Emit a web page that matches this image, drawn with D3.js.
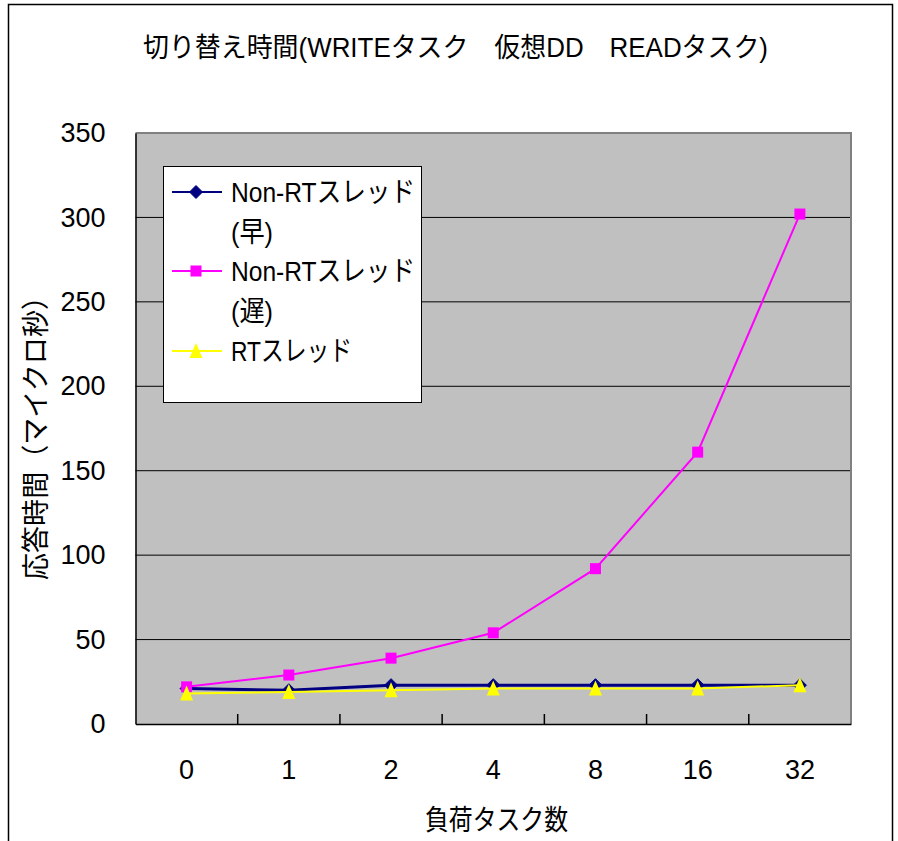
<!DOCTYPE html>
<html>
<head>
<meta charset="utf-8">
<script src="https://cdn.jsdelivr.net/npm/d3@7"></script>
<style>
  html, body { margin: 0; padding: 0; background: #fff; }
  svg { display: block; }
  text { fill: #000; }
</style>
</head>
<body>
<svg id="chart" width="898" height="841"></svg>
<script>
// Data: switch time (µs) vs number of load tasks
const loadTasks = ["0", "1", "2", "4", "8", "16", "32"];
const nonRtFast = [21, 20, 23, 23, 23, 23, 23];
const nonRtSlow = [22, 29, 39, 54, 92, 161, 302];
const rtThread  = [18, 19, 20, 21, 21, 21, 23];
const yTicks = [0, 50, 100, 150, 200, 250, 300, 350];

const titleText  = "切り替え時間(WRITEタスク　仮想DD　READタスク)";
const xTitleText = "負荷タスク数";
const yTitleText = "応答時間（マイクロ秒）";

const seriesList = [
  { name: ["Non-RTスレッド", "(早)"], values: nonRtFast, color: "#000080", marker: "diamond" },
  { name: ["Non-RTスレッド", "(遅)"], values: nonRtSlow, color: "#FF00FF", marker: "square" },
  { name: ["RTスレッド"],            values: rtThread,  color: "#FFFF00", marker: "triangle" }
];

const FONT = "'Liberation Sans', 'Noto Sans CJK JP', Arial, sans-serif";
const svg = d3.select("#chart");

// Plot area geometry
const plot = { left: 135.5, right: 851, top: 133, bottom: 724 };

// Outer chart frame
svg.append("rect")
  .attr("x", 8.5).attr("y", 4.5)
  .attr("width", 884).attr("height", 850)
  .attr("fill", "#fff").attr("stroke", "#000").attr("stroke-width", 1.5);

const x = d3.scaleBand().domain(loadTasks).range([plot.left, plot.right]);
const y = d3.scaleLinear().domain([0, 350]).range([plot.bottom, plot.top]);

// Plot background
svg.append("rect")
  .attr("x", plot.left).attr("y", plot.top)
  .attr("width", plot.right - plot.left).attr("height", plot.bottom - plot.top)
  .attr("fill", "#C0C0C0");

// Horizontal gridlines
svg.append("g")
  .selectAll("line")
  .data(yTicks.filter(d => d > 0 && d < 350))
  .join("line")
  .attr("x1", plot.left).attr("x2", plot.right)
  .attr("y1", d => y(d)).attr("y2", d => y(d))
  .attr("stroke", "#000").attr("stroke-width", 1);

// Plot border: grey top/right
svg.append("path")
  .attr("d", `M${plot.left},${plot.top}H${plot.right}V${plot.bottom}`)
  .attr("fill", "none").attr("stroke", "#808080").attr("stroke-width", 2);

// Y axis
const yAxis = svg.append("g")
  .attr("transform", `translate(${plot.left},0)`)
  .call(d3.axisLeft(y).tickValues(yTicks).tickSize(0).tickPadding(30));
yAxis.select(".domain").attr("stroke", "#000").attr("stroke-width", 1.5);
yAxis.selectAll("text")
  .attr("font-family", FONT).attr("font-size", 27).attr("fill", "#000");

// X axis (ticks at category boundaries, pointing inward)
const xAxis = svg.append("g")
  .attr("transform", `translate(0,${plot.bottom})`)
  .call(d3.axisBottom(x).tickSize(0).tickPadding(36));
xAxis.select(".domain").attr("stroke", "#000").attr("stroke-width", 1.5);
xAxis.selectAll("text")
  .attr("font-family", FONT).attr("font-size", 27).attr("fill", "#000");
svg.append("g")
  .selectAll("line")
  .data(loadTasks.slice(1))
  .join("line")
  .attr("x1", d => x(d)).attr("x2", d => x(d))
  .attr("y1", plot.bottom).attr("y2", plot.bottom - 10)
  .attr("stroke", "#000").attr("stroke-width", 1.5);

// Markers
function drawMarker(g, type, color, cx, cy) {
  if (type === "diamond") {
    g.append("path")
      .attr("d", `M${cx},${cy - 6.5}L${cx + 6.5},${cy}L${cx},${cy + 6.5}L${cx - 6.5},${cy}Z`)
      .attr("fill", color).attr("stroke", color).attr("stroke-width", 1);
  } else if (type === "square") {
    g.append("rect")
      .attr("x", cx - 5.5).attr("y", cy - 5.5).attr("width", 11).attr("height", 11)
      .attr("fill", color);
  } else {
    g.append("path")
      .attr("d", `M${cx},${cy - 8}L${cx + 6.5},${cy + 7}L${cx - 6.5},${cy + 7}Z`)
      .attr("fill", color);
  }
}

const cx = d => x(d) + x.bandwidth() / 2;
const line = d3.line().x((v, i) => cx(loadTasks[i])).y(v => y(v));

seriesList.forEach(s => {
  const g = svg.append("g");
  g.append("path")
    .datum(s.values)
    .attr("d", line)
    .attr("fill", "none")
    .attr("stroke", s.color)
    .attr("stroke-width", s.marker === "diamond" ? 3 : 2);
  s.values.forEach((v, i) => drawMarker(g, s.marker, s.color, cx(loadTasks[i]), y(v)));
});

// Legend
const legend = svg.append("g");
legend.append("rect")
  .attr("x", 163.5).attr("y", 166.5).attr("width", 258).attr("height", 236)
  .attr("fill", "#fff").attr("stroke", "#000").attr("stroke-width", 1);
const legendRows = [192, 271, 351];
const legendWidths = [184, 184, 121];
seriesList.forEach((s, i) => {
  const ly = legendRows[i];
  legend.append("line")
    .attr("x1", 172).attr("x2", 222).attr("y1", ly).attr("y2", ly)
    .attr("stroke", s.color).attr("stroke-width", 2);
  drawMarker(legend, s.marker, s.color, 196, ly);
  s.name.forEach((t, j) => {
    legend.append("text")
      .attr("x", 231).attr("y", ly + 10 + j * 40)
      .attr("font-family", FONT).attr("font-size", 28)
      .attr("textLength", j === 0 ? legendWidths[i] : 42)
      .attr("lengthAdjust", "spacingAndGlyphs")
      .text(t);
  });
});

// Chart title
svg.append("text")
  .attr("x", 143).attr("y", 57)
  .attr("font-family", FONT).attr("font-size", 27)
  .attr("textLength", 625).attr("lengthAdjust", "spacingAndGlyphs")
  .text(titleText);

// X axis title
svg.append("text")
  .attr("x", 425).attr("y", 830)
  .attr("font-family", FONT).attr("font-size", 28)
  .attr("textLength", 143).attr("lengthAdjust", "spacingAndGlyphs")
  .text(xTitleText);

// Y axis title (rotated)
svg.append("text")
  .attr("transform", "translate(46,580) rotate(-90)")
  .attr("x", 0).attr("y", 0)
  .attr("font-family", FONT).attr("font-size", 28)
  .attr("textLength", 297).attr("lengthAdjust", "spacingAndGlyphs")
  .text(yTitleText);
</script>
</body>
</html>
